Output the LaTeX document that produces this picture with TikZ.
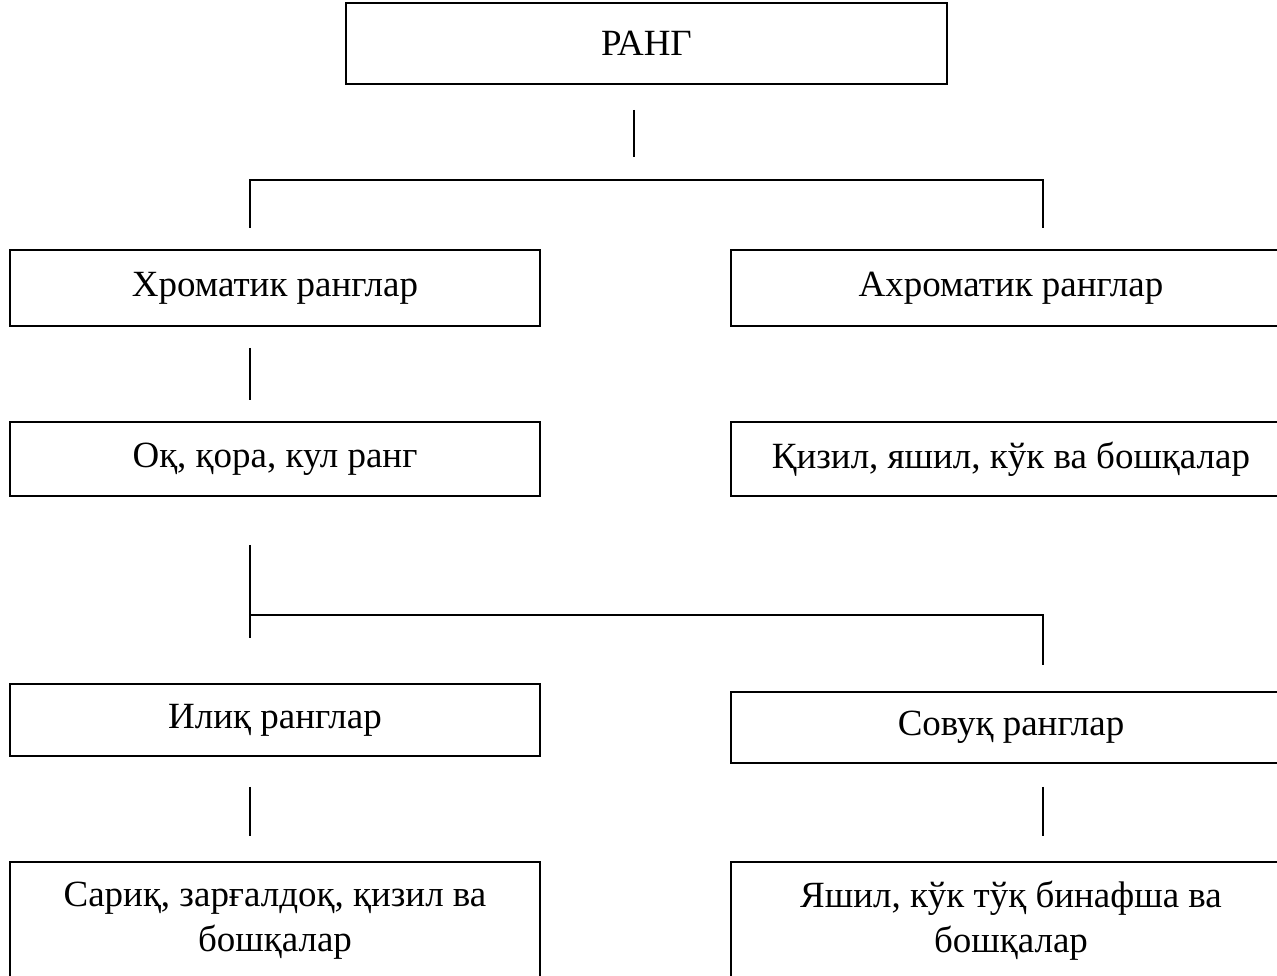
\documentclass[tikz,border=0pt]{standalone}
\usepackage{fontspec}
\setmainfont{Liberation Serif}
\usepackage{tikz}
\usetikzlibrary{positioning, calc}

\tikzset{
  box/.style={draw, line width=0.8pt, minimum width=7.05cm, minimum height=1.01cm, align=center, inner sep=0pt, font=\fontsize{14}{17}\selectfont},
  rbox/.style={box, minimum width=7.45cm},
  conn/.style={line width=0.7pt}
}

\begin{document}
\begin{tikzpicture}[x=0.0133cm, y=-0.0133cm]
  \clip (0,0) rectangle (1277,976);

  % top
  \node[box, minimum width=7.99cm, minimum height=1.08cm] (rang) at (646.5, 43.5) {РАНГ};

  % first level
  \node[box] (chrom) at (275, 288) {Хроматик ранглар};
  \node[rbox] (achrom) at (1011, 288) {Ахроматик ранглар};

  % second level
  \node[box, minimum height=0.98cm] (ok) at (275, 459) {Оқ, қора, кул ранг};
  \node[rbox, minimum height=0.98cm] (qizil) at (1011, 459) {Қизил, яшил, кўк ва бошқалар};

  % third level
  \node[box, minimum height=0.96cm] (iliq) at (275, 720) {Илиқ ранглар};
  \node[rbox, minimum height=0.94cm] (sovuq) at (1011, 727.5) {Совуқ ранглар};

  % bottom
  \node[box, minimum height=1.57cm] (sariq) at (275, 921) {Сариқ, зарғалдоқ, қизил ва\\бошқалар};
  \node[rbox, minimum height=1.57cm] (yashil) at (1011, 921) {Яшил, кўк тўқ бинафша ва\\бошқалар};

  % connector ends
  \coordinate (r1) at (634, 110);
  \coordinate (r2) at (634, 157);
  \coordinate (s1) at (250, 180);
  \coordinate (s2) at (1043, 180);
  \coordinate (c1) at (250, 228);
  \coordinate (c2) at (1043, 228);
  \coordinate (k1) at (250, 348);
  \coordinate (k2) at (250, 400);
  \coordinate (o1) at (250, 545);
  \coordinate (o2) at (250, 638);
  \coordinate (h1) at (250, 615);
  \coordinate (h2) at (1043, 615);
  \coordinate (v2) at (1043, 665);
  \coordinate (i1) at (250, 787);
  \coordinate (i2) at (250, 836);
  \coordinate (w1) at (1043, 787);
  \coordinate (w2) at (1043, 836);

  % connectors
  \draw[conn] (r1) -- (r2);
  \draw[conn] (c1) -- (s1) -- (s2) -- (c2);
  \draw[conn] (k1) -- (k2);
  \draw[conn] (o1) -- (o2);
  \draw[conn] (h1) -- (h2) -- (v2);
  \draw[conn] (i1) -- (i2);
  \draw[conn] (w1) -- (w2);
\end{tikzpicture}
\end{document}
